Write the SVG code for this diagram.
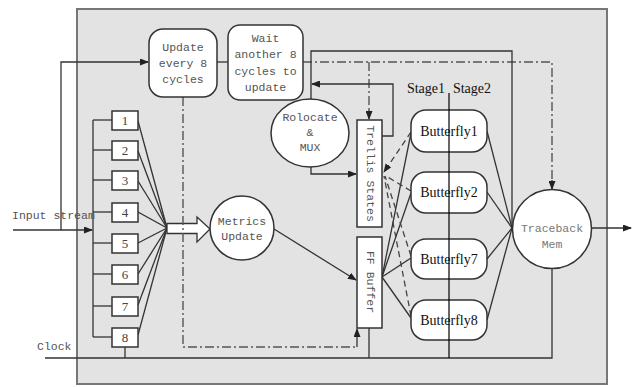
<svg xmlns="http://www.w3.org/2000/svg" width="637" height="387" viewBox="0 0 637 387">
<style>
.mono{font-family:"Liberation Mono","DejaVu Sans Mono",monospace;font-size:11.5px;fill:#555;text-anchor:middle}
.ser{font-family:"Liberation Serif","Times New Roman",serif;fill:#111;text-anchor:middle}
.ln{fill:none;stroke:#333;stroke-width:1.3}
.dd{fill:none;stroke:#555;stroke-width:1.4;stroke-dasharray:9,3,2,3}
.ds{fill:none;stroke:#444;stroke-width:1.3;stroke-dasharray:6,4}
.box{fill:#fff;stroke:#333;stroke-width:1.5}
</style>
<defs>
<marker id="ah" markerWidth="9" markerHeight="7" refX="8" refY="3.5" orient="auto" markerUnits="userSpaceOnUse">
<path d="M0,0 L9,3.5 L0,7 Z" fill="#222"/>
</marker>
</defs>
<rect x="0" y="0" width="637" height="387" fill="#fff"/>
<rect id="frame" x="77" y="9" width="530" height="375" fill="#e3e3e3" stroke="#777" stroke-width="2"/>

<g id="connectors">
<!-- input stream -->
<line class="ln" x1="13" y1="230" x2="92" y2="230" marker-end="url(#ah)"/>
<polyline class="ln" points="61,230 61,62 148,62" marker-end="url(#ah)"/>
<!-- bus -->
<line class="ln" x1="93" y1="120" x2="93" y2="337"/>
<line class="ln" x1="93" y1="120" x2="112" y2="120"/>
<line class="ln" x1="93" y1="150" x2="112" y2="150"/>
<line class="ln" x1="93" y1="180" x2="112" y2="180"/>
<line class="ln" x1="93" y1="212" x2="112" y2="212"/>
<line class="ln" x1="93" y1="243" x2="112" y2="243"/>
<line class="ln" x1="93" y1="274" x2="112" y2="274"/>
<line class="ln" x1="93" y1="306" x2="112" y2="306"/>
<line class="ln" x1="93" y1="337" x2="112" y2="337"/>
<!-- converge -->
<line class="ln" x1="138" y1="121" x2="167" y2="228"/>
<line class="ln" x1="138" y1="151" x2="167" y2="228"/>
<line class="ln" x1="138" y1="181" x2="167" y2="228"/>
<line class="ln" x1="138" y1="212" x2="167" y2="228"/>
<line class="ln" x1="138" y1="243" x2="167" y2="228"/>
<line class="ln" x1="138" y1="274" x2="167" y2="228"/>
<line class="ln" x1="138" y1="305" x2="167" y2="228"/>
<line class="ln" x1="138" y1="335" x2="167" y2="228"/>
<!-- hollow arrow -->
<path d="M167,223.5 L197,223.5 L197,217 L210,229 L197,242 L197,233.5 L167,233.5 Z" fill="#fff" stroke="#333" stroke-width="1.3"/>
<!-- update -> wait -->
<line class="ln" x1="217" y1="62" x2="228" y2="62"/>
<!-- dash-dot from update box to FF buffer -->
<polyline class="dd" points="183,97 183,347 357,347"/>
<line class="ln" x1="357" y1="347" x2="357" y2="329" marker-end="url(#ah)"/>
<!-- top dash-dot -->
<polyline class="dd" points="303,62 552,62 552,182"/>
<line class="ln" x1="552" y1="180" x2="552" y2="189" marker-end="url(#ah)"/>
<polyline class="dd" points="369,62 369,112"/>
<line class="ln" x1="369" y1="110" x2="369" y2="119" marker-end="url(#ah)"/>
<!-- solid loop top -->
<polyline class="ln" points="311,100 311,51 512,51 512,228"/>
<polyline class="ln" points="382,136 393,136 393,84 312,84" marker-end="url(#ah)"/>
<polyline class="ln" points="311,167 311,174 356,174" marker-end="url(#ah)"/>
<!-- metrics -> FF -->
<line class="ln" x1="274" y1="229" x2="356" y2="280" marker-end="url(#ah)"/>
<!-- FF to butterflies -->
<line class="ln" x1="382" y1="277" x2="411" y2="133"/>
<line class="ln" x1="382" y1="277" x2="411" y2="193"/>
<line class="ln" x1="382" y1="277" x2="411" y2="258"/>
<line class="ln" x1="382" y1="277" x2="411" y2="318"/>
<!-- butterflies to trellis (dashed) -->
<line class="ds" x1="411" y1="132" x2="384" y2="172" marker-end="url(#ah)"/>
<line class="ds" x1="411" y1="191" x2="386" y2="176"/>
<line class="ds" x1="411" y1="256" x2="385" y2="176"/>
<line class="ds" x1="411" y1="316" x2="384" y2="176"/>
<!-- butterflies to traceback -->
<line class="ln" x1="487" y1="131" x2="512" y2="228"/>
<line class="ln" x1="487" y1="192" x2="512" y2="228"/>
<line class="ln" x1="487" y1="259" x2="512" y2="228"/>
<line class="ln" x1="487" y1="320" x2="512" y2="228"/>
<!-- output -->
<line class="ln" x1="592" y1="228" x2="631" y2="228" marker-end="url(#ah)"/>
<!-- clock -->
<polyline class="ln" points="45,358 552,358 552,268"/>
<line class="ln" x1="125" y1="347" x2="125" y2="358"/>
<line class="ln" x1="369" y1="328" x2="369" y2="358"/>
</g>

<g id="update8">
<rect class="box" x="149" y="29" width="68" height="68" rx="14"/>
<text class="mono" x="183" y="51">Update</text>
<text class="mono" x="183" y="67">every 8</text>
<text class="mono" x="183" y="83">cycles</text>
</g>
<g id="wait8">
<rect class="box" x="228" y="25" width="75" height="75" rx="12"/>
<text class="mono" x="265.5" y="42">Wait</text>
<text class="mono" x="265.5" y="58">another 8</text>
<text class="mono" x="265.5" y="75">cycles to</text>
<text class="mono" x="265.5" y="91">update</text>
</g>
<g id="relocate">
<ellipse class="box" cx="310" cy="133" rx="39" ry="34"/>
<text class="mono" x="310" y="121">Rolocate</text>
<text class="mono" x="310" y="136">&amp;</text>
<text class="mono" x="310" y="151">MUX</text>
</g>
<g id="metrics">
<circle class="box" cx="242" cy="228" r="32"/>
<text class="mono" x="242" y="225">Metrics</text>
<text class="mono" x="242" y="240">Update</text>
</g>
<g id="trellis">
<rect class="box" x="357" y="120" width="25" height="107"/>
<text class="mono" transform="translate(370,173.5) rotate(90)" dominant-baseline="central" y="0">Trellis States</text>
</g>
<g id="ffbuffer">
<rect class="box" x="357" y="237" width="25" height="91"/>
<text class="mono" transform="translate(370,282) rotate(90)" dominant-baseline="central">FF Buffer</text>
</g>
<g id="traceback">
<circle class="box" cx="552" cy="229" r="39.5"/>
<text class="mono" x="552" y="232" fill="#777" style="fill:#777">Traceback</text>
<text class="mono" x="552" y="248" style="fill:#777">Mem</text>
</g>

<g id="reg1"><rect class="box" x="112" y="111" width="26" height="19"/><text class="ser" x="125" y="125" font-size="13" style="fill:#444">1</text></g>
<g id="reg2"><rect class="box" x="112" y="141" width="26" height="19"/><text class="ser" x="125" y="155" font-size="13" style="fill:#444">2</text></g>
<g id="reg3"><rect class="box" x="112" y="171" width="26" height="19"/><text class="ser" x="125" y="185" font-size="13" style="fill:#444">3</text></g>
<g id="reg4"><rect class="box" x="112" y="203" width="26" height="19"/><text class="ser" x="125" y="217" font-size="13" style="fill:#444">4</text></g>
<g id="reg5"><rect class="box" x="112" y="234" width="26" height="19"/><text class="ser" x="125" y="248" font-size="13" style="fill:#444">5</text></g>
<g id="reg6"><rect class="box" x="112" y="265" width="26" height="19"/><text class="ser" x="125" y="279" font-size="13" style="fill:#444">6</text></g>
<g id="reg7"><rect class="box" x="112" y="297" width="26" height="19"/><text class="ser" x="125" y="311" font-size="13" style="fill:#444">7</text></g>
<g id="reg8"><rect class="box" x="112" y="328" width="26" height="19"/><text class="ser" x="125" y="342" font-size="13" style="fill:#444">8</text></g>

<g id="bf1"><rect class="box" x="411" y="110" width="76" height="42" rx="15"/><text class="ser" x="449" y="136" font-size="14">Butterfly1</text></g>
<g id="bf2"><rect class="box" x="411" y="172" width="76" height="41" rx="15"/><text class="ser" x="449" y="197" font-size="14">Butterfly2</text></g>
<g id="bf7"><rect class="box" x="411" y="239" width="76" height="40" rx="15"/><text class="ser" x="449" y="264" font-size="14">Butterfly7</text></g>
<g id="bf8"><rect class="box" x="411" y="300" width="76" height="40" rx="15"/><text class="ser" x="449" y="325" font-size="14">Butterfly8</text></g>

<g id="stages">
<text class="ser" x="426" y="93" font-size="14">Stage1</text>
<text class="ser" x="472" y="93" font-size="14">Stage2</text>
<line x1="449" y1="93" x2="449" y2="358" stroke="#000" stroke-width="1.2"/>
</g>

<g id="labels">
<text class="mono" x="12" y="219" style="text-anchor:start">Input stream</text>
<text class="mono" x="37" y="350" style="text-anchor:start">Clock</text>
</g>
</svg>
